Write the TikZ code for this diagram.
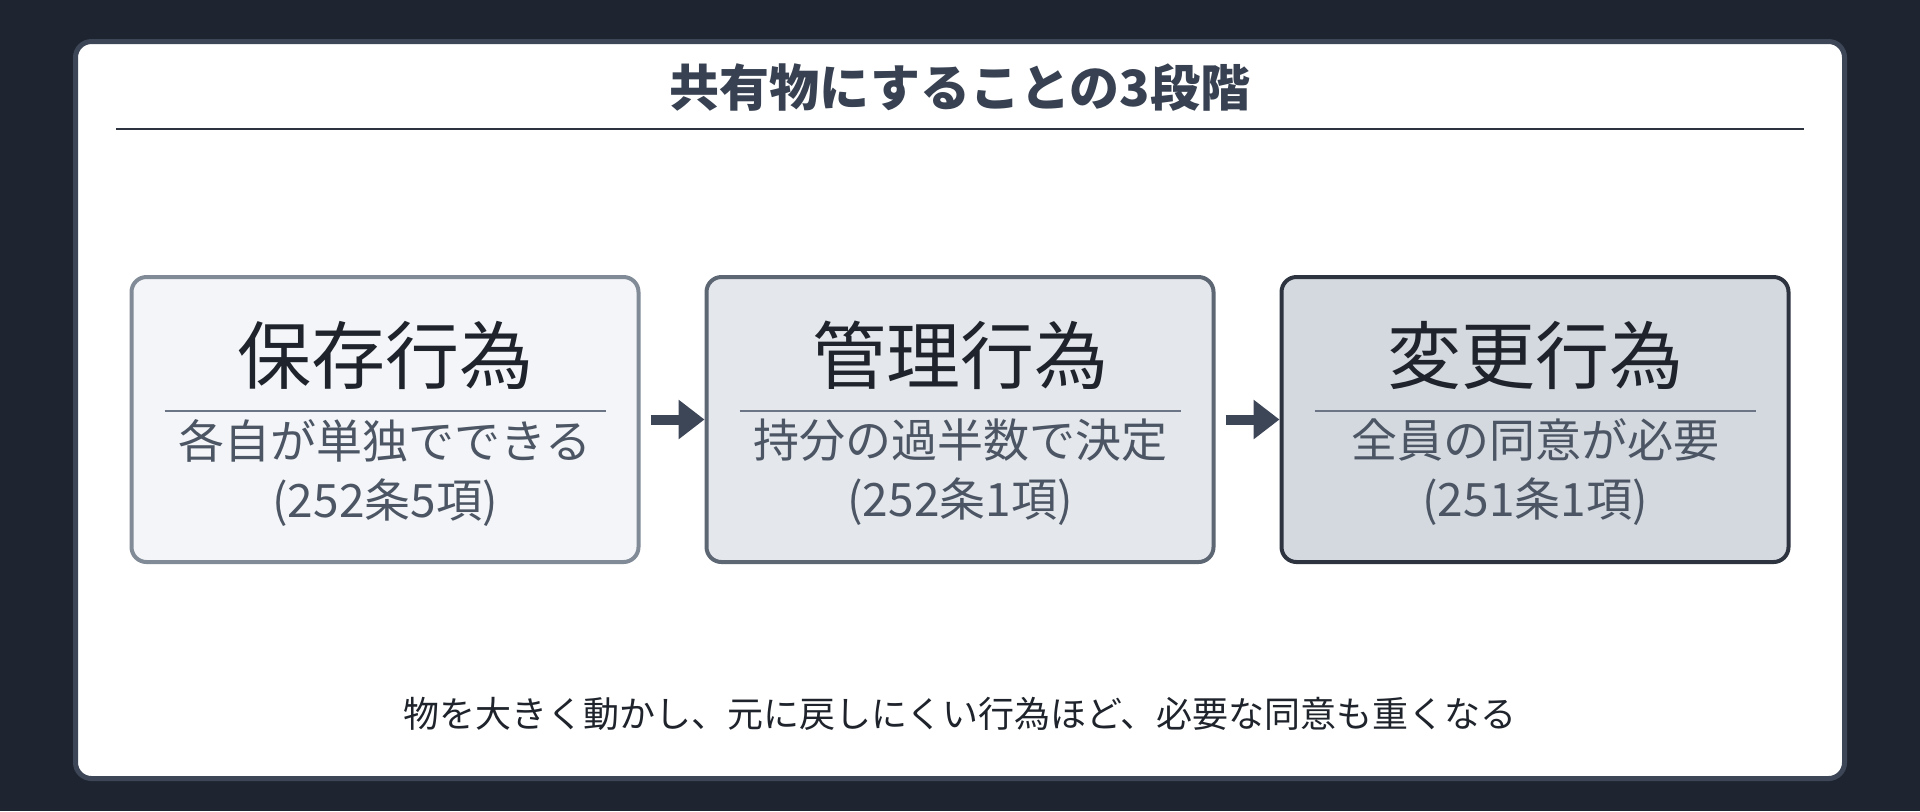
\documentclass[tikz,border=0pt]{standalone}
\usepackage{fontspec}
\setmainfont{Noto Sans CJK JP}
\usetikzlibrary{arrows.meta}
\definecolor{kyoyu@bg}{HTML}{1F2530}
\definecolor{kyoyu@frame}{HTML}{3C4656}
\definecolor{kyoyu@head}{HTML}{374151}
\definecolor{kyoyu@rule}{HTML}{2D3440}
\definecolor{kyoyu@ink}{HTML}{1F242C}
\definecolor{kyoyu@note}{HTML}{4B5563}
\definecolor{kyoyu@sep}{HTML}{6B7585}
\definecolor{kyoyu@arrow}{HTML}{3D4657}
\definecolor{kyoyu@light}{HTML}{F3F5F8}
\definecolor{kyoyu@mid}{HTML}{E4E7EC}
\definecolor{kyoyu@dark}{HTML}{D4D9E0}

\begin{document}
\begin{tikzpicture}[x=0.5pt,y=-0.5pt,
  stage/.style={draw, rounded corners=7.5pt, line width=2pt,
    minimum width=253.5pt, minimum height=142.5pt},
  stagename/.style={font=\fontsize{37pt}{40pt}\selectfont, text=kyoyu@ink},
  stagenote/.style={font=\fontsize{23pt}{29.5pt}\selectfont,
    text=kyoyu@note, align=center},
  flow/.style={-{Triangle[length=13pt,width=19pt]}, line width=5pt,
    kyoyu@arrow, shorten <=5pt},
]

\useasboundingbox (0,0) rectangle (1920,811);
\fill[kyoyu@bg] (0,0) rectangle (1920,811);

% panel
\draw[kyoyu@frame, fill=white, line width=2.5pt, rounded corners=8pt]
  (75.5,41.5) rectangle (1844.5,778.5);

\node[font=\fontsize{25pt}{28pt}\selectfont\bfseries, text=kyoyu@head]
  (title) at (960,88) {共有物にすることの3段階};
\draw[kyoyu@rule, line width=1.2pt] (116,129) -- (1804,129);

% hozon
\begin{scope}[shift={(385,0)}]
  \node[stage, fill=kyoyu@light, draw=kyoyu@sep!85!white]
    (hozon) at (0,419.5) {};
  \node[stagename] (hozon-name) at (0,355) {保存行為};
  \draw[kyoyu@sep, line width=1pt] (-220.5,411) -- (220.5,411);
  \node[stagenote] (hozon-note) at (0,472.5)
    {各自が単独でできる\\(252条5項)};
\end{scope}

% kanri
\begin{scope}[shift={(960,0)}]
  \node[stage, fill=kyoyu@mid, draw=kyoyu@note!90!white]
    (kanri) at (0,419.5) {};
  \node[stagename] (kanri-name) at (0,355) {管理行為};
  \draw[kyoyu@sep, line width=1pt] (-220.5,411) -- (220.5,411);
  \node[stagenote] (kanri-note) at (0,472.5)
    {持分の過半数で決定\\(252条1項)};
\end{scope}

% henko
\begin{scope}[shift={(1535,0)}]
  \node[stage, fill=kyoyu@dark, draw=kyoyu@rule]
    (henko) at (0,419.5) {};
  \node[stagename] (henko-name) at (0,355) {変更行為};
  \draw[kyoyu@sep, line width=1pt] (-220.5,411) -- (220.5,411);
  \node[stagenote] (henko-note) at (0,472.5)
    {全員の同意が必要\\(251条1項)};
\end{scope}

\draw[flow] (hozon) -- (kanri);
\draw[flow] (kanri) -- (henko);

\node[font=\fontsize{18pt}{22pt}\selectfont, text=kyoyu@ink] (summary) at (960,714)
  {物を大きく動かし、元に戻しにくい行為ほど、必要な同意も重くなる};

\end{tikzpicture}
\end{document}
